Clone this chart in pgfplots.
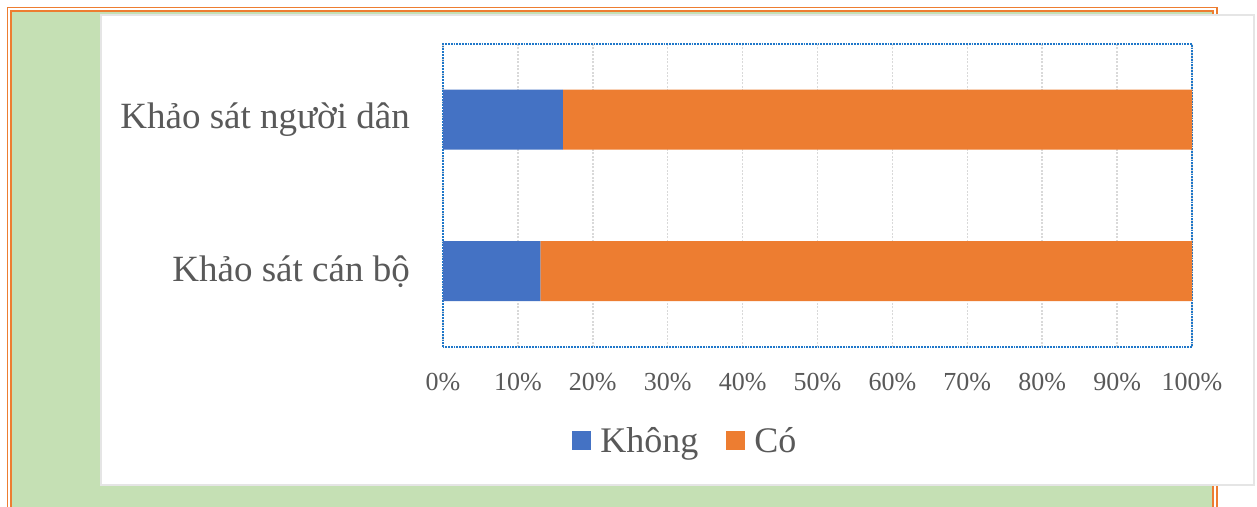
\documentclass[border=0pt]{standalone}
\usepackage{pgfplots}
\pgfplotsset{compat=1.18}
\usepackage{fontspec}
\setmainfont{Liberation Serif}

\definecolor{barblue}{HTML}{4472C4}
\definecolor{barorange}{HTML}{ED7D31}
\definecolor{framegreen}{HTML}{C5E0B4}
\definecolor{txtgray}{HTML}{595959}
\definecolor{axisblue}{HTML}{1F77C9}
\definecolor{gridgray}{HTML}{D9D9D9}

\begin{document}
\begin{tikzpicture}[x=1pt,y=1pt]
\useasboundingbox (0,0) rectangle (1257,506);
\begin{scope}
\clip (0,0) rectangle (1257,506);
\fill[white] (0,0) rectangle (1257,506);
% double orange frame with green fill
\draw[barorange, line width=1.8pt] (7.5,-20) rectangle (1217,498.5);
\draw[barorange, line width=2pt] (11,-20) rectangle (1213,495);
\fill[framegreen] (12,-20) rectangle (1212,494);
% white chart panel
\filldraw[fill=white, draw=black!10, line width=1.5pt] (101,21) rectangle (1254,491);
\end{scope}

\begin{axis}[
  at={(443pt,159pt)}, anchor=south west,
  scale only axis, width=749pt, height=303pt,
  xbar stacked, bar width=60pt,
  xmin=0, xmax=100, ymin=-0.5, ymax=1.5,
  xtick={0,10,...,100},
  xticklabel={\pgfmathprintnumber{\tick}\%},
  ytick={0,1},
  yticklabels={Khảo sát cán bộ, Khảo sát người dân},
  major tick length=0pt,
  xmajorgrids,
  major grid style={gridgray, dash pattern=on 2pt off 1.5pt, line width=1.5pt},
  axis line style={axisblue, densely dotted, line width=1.8pt},
  /pgf/number format/assume math mode=true,
  xticklabel style={font=\fontsize{26}{30}\selectfont, text=txtgray, yshift=-23pt},
  yticklabel style={font=\fontsize{37}{42}\selectfont, text=txtgray, inner sep=0pt, xshift=-33pt},
  legend columns=2,
  legend image code/.code={\fill[#1] (0pt,-9.5pt) rectangle (19pt,9.5pt);},
  legend style={
    at={(0.3224,-0.31)}, anchor=center,
    draw=none, fill=none,
    font=\fontsize{36}{40}\selectfont,
    nodes={text=txtgray, inner sep=0pt},
    /tikz/every odd column/.append style={column sep=9pt},
    /tikz/every even column/.append style={column sep=28pt},
  },
]
\addplot[fill=barblue, draw=none] coordinates {(13,0) (16,1)};
\addplot[fill=barorange, draw=none] coordinates {(87,0) (84,1)};
\legend{Không, Có}
\end{axis}
\end{tikzpicture}
\end{document}
